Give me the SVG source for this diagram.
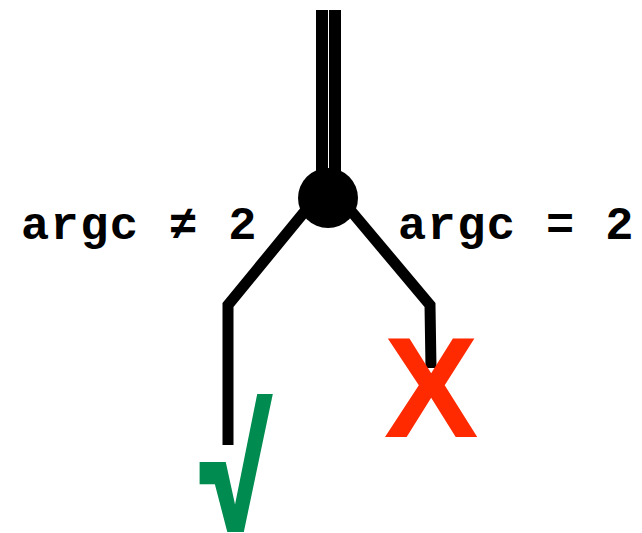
<svg xmlns="http://www.w3.org/2000/svg" width="642" height="533" viewBox="0 0 642 533">
<style>
.wire{fill:none;stroke:#000;stroke-width:11;stroke-linejoin:miter}
.lbl{font-family:"Liberation Mono","Courier New",monospace;font-weight:bold;font-size:47px;letter-spacing:1.4px;fill:#000}
</style>
<rect width="642" height="533" fill="#fff"/>
<g id="connectors">
<line x1="322" y1="10" x2="322" y2="195" stroke="#000" stroke-width="12"/>
<line x1="335" y1="10" x2="335" y2="195" stroke="#000" stroke-width="12"/>
<polyline class="wire" points="310,205 228,305 228,445"/>
<polyline class="wire" points="346,205 430,305 431,368"/>
</g>
<g id="junction"><circle cx="328" cy="198" r="30" fill="#000"/></g>
<g id="label-ne"><text class="lbl" x="21" y="239">argc ≠ 2</text></g>
<g id="label-eq"><text class="lbl" x="398" y="239">argc = 2</text></g>
<g id="fail"><text x="431" y="437" text-anchor="middle" font-family="Liberation Sans,Arial,sans-serif" font-weight="bold" font-size="142" fill="#ff2a00">X</text></g>
<g id="pass"><text transform="translate(191,532) scale(1,1.42)" x="0" y="0" font-family="Inter,sans-serif" font-weight="bold" font-size="134" fill="#008c50">√</text></g>
</svg>
